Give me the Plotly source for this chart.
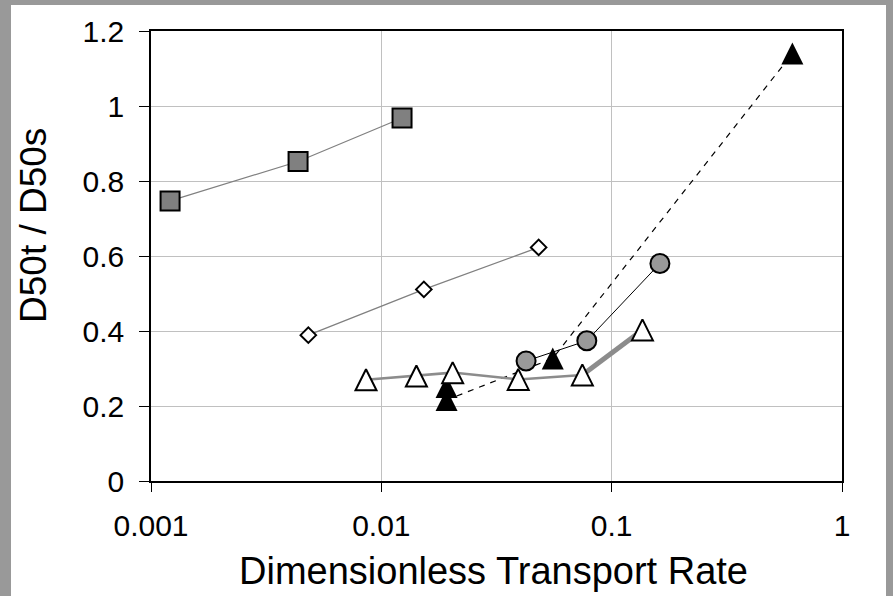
import plotly.graph_objects as go

# ---- data ----
sq_x = [0.00121, 0.00435, 0.0123]
sq_y = [0.747, 0.852, 0.968]

dm_x = [0.00482, 0.0153, 0.0482]
dm_y = [0.389, 0.511, 0.623]

ot_x = [0.00858, 0.0142, 0.0204, 0.0393, 0.0746, 0.136]
ot_y = [0.270, 0.280, 0.289, 0.271, 0.283, 0.403]

ft_x = [0.0192, 0.0192, 0.0555, 0.609]
ft_y = [0.251, 0.216, 0.327, 1.140]

ci_x = [0.0425, 0.078, 0.162]
ci_y = [0.320, 0.374, 0.580]

x_tickvals = [0.001, 0.01, 0.1, 1]
x_ticktext = ["0.001", "0.01", "0.1", "1"]
y_tickvals = [0, 0.2, 0.4, 0.6, 0.8, 1.0, 1.2]
y_ticktext = ["0", "0.2", "0.4", "0.6", "0.8", "1", "1.2"]

FONT = "Liberation Sans, Arial, sans-serif"
W, H = 893, 596
L, R, T, B = 151, 51, 31, 115
PW, PH = W - L - R, H - T - B

fig = go.Figure()

# squares
fig.add_trace(go.Scatter(x=sq_x, y=sq_y, mode="lines+markers",
                         line=dict(color="#808080", width=1.3),
                         marker=dict(symbol="square", size=19, color="#808080",
                                     line=dict(color="black", width=2))))
# diamonds
fig.add_trace(go.Scatter(x=dm_x, y=dm_y, mode="lines+markers",
                         line=dict(color="#808080", width=1.3),
                         marker=dict(symbol="diamond", size=12, color="white",
                                     line=dict(color="black", width=2))))
# filled triangles: dashed line then markers
fig.add_trace(go.Scatter(x=ft_x, y=ft_y, mode="lines",
                         line=dict(color="black", width=1.2, dash="6px,6px")))
fig.add_trace(go.Scatter(x=ft_x, y=ft_y, mode="markers",
                         marker=dict(symbol="arrow-down", angle=180, standoff=11,
                                     size=22, color="black",
                                     line=dict(color="black", width=0))))
# open triangles: thin line, thick last segment, markers
fig.add_trace(go.Scatter(x=ot_x[:5], y=ot_y[:5], mode="lines",
                         line=dict(color="#8c8c8c", width=2.5)))
fig.add_trace(go.Scatter(x=ot_x[4:], y=ot_y[4:], mode="lines",
                         line=dict(color="#8c8c8c", width=5)))
fig.add_trace(go.Scatter(x=ot_x, y=ot_y, mode="markers",
                         marker=dict(symbol="arrow-down", angle=180, standoff=10.5,
                                     size=21, color="white",
                                     line=dict(color="black", width=2))))
# circles
fig.add_trace(go.Scatter(x=ci_x, y=ci_y, mode="lines+markers",
                         line=dict(color="black", width=1),
                         marker=dict(symbol="circle", size=19, color="#999999",
                                     line=dict(color="black", width=2))))

fig.update_xaxes(type="log", range=[-3, 0], tickvals=x_tickvals, ticktext=x_ticktext,
                 showgrid=True, gridcolor="#c0c0c0", gridwidth=1,
                 showline=True, linecolor="black", linewidth=1.5, mirror=True,
                 ticks="outside", ticklen=9, tickcolor="black", tickwidth=1,
                 ticklabelstandoff=8,
                 tickfont=dict(family=FONT, size=30, color="black"),
                 zeroline=False)
fig.update_yaxes(range=[0, 1.2], tickvals=y_tickvals, ticktext=y_ticktext,
                 showgrid=True, gridcolor="#c0c0c0", gridwidth=1,
                 showline=True, linecolor="black", linewidth=1.5, mirror=True,
                 ticks="outside", ticklen=10, tickcolor="black", tickwidth=1,
                 ticklabelstandoff=9,
                 tickfont=dict(family=FONT, size=30, color="black"),
                 zeroline=False)

# white chart area over grey page
fig.add_shape(type="rect", xref="paper", yref="paper", layer="below",
              x0=(11 - L) / PW, x1=(886 - L) / PW,
              y0=(481 - 700) / PH, y1=(481 - 5) / PH,
              fillcolor="white", line=dict(width=0))

fig.add_annotation(text="Dimensionless Transport Rate", xref="paper", yref="paper",
                   x=(493 - L) / PW, y=(481 - 571) / PH, xanchor="center", yanchor="middle",
                   showarrow=False, font=dict(family=FONT, size=38, color="black"))
fig.add_annotation(text="D50t / D50s", xref="paper", yref="paper", textangle=-90,
                   x=(33 - L) / PW, y=(481 - 226) / PH, xanchor="center", yanchor="middle",
                   showarrow=False, font=dict(family=FONT, size=37, color="black"))

fig.update_layout(width=W, height=H, margin=dict(l=L, r=R, t=T, b=B),
                  paper_bgcolor="#999999", plot_bgcolor="white", showlegend=False)

fig.write_html("out.html")
